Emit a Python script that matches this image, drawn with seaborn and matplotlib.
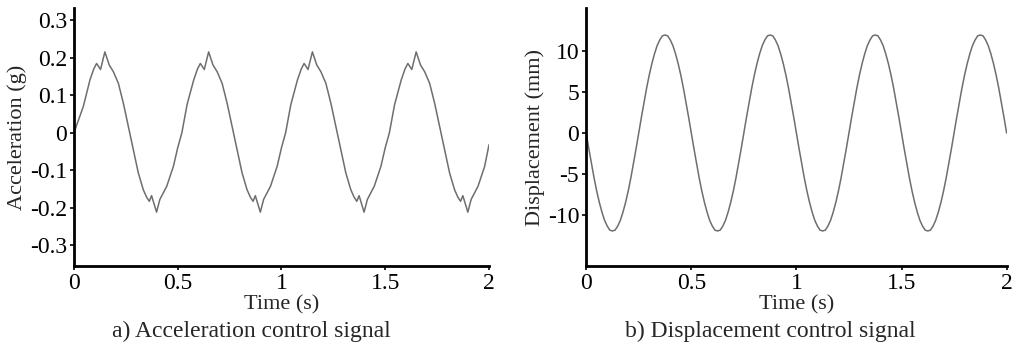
import numpy as np
import pandas as pd
import seaborn as sns
import matplotlib.pyplot as plt

# acceleration control signal (s, g)
acc_time = [
    0.000, 0.045, 0.077, 0.095, 0.109, 0.128, 0.149, 0.170, 0.190, 0.214, 0.238, 0.262,
    0.286, 0.310, 0.334, 0.350, 0.363, 0.374, 0.398, 0.414, 0.447, 0.479,
    0.500, 0.520, 0.545, 0.577, 0.595, 0.609, 0.628, 0.649, 0.670, 0.690, 0.714, 0.738, 0.762,
    0.786, 0.810, 0.834, 0.850, 0.863, 0.874, 0.898, 0.914, 0.947, 0.979,
    1.000, 1.020, 1.045, 1.077, 1.095, 1.109, 1.128, 1.149, 1.170, 1.190, 1.214, 1.238, 1.262,
    1.286, 1.310, 1.334, 1.350, 1.363, 1.374, 1.398, 1.414, 1.447, 1.479,
    1.500, 1.520, 1.545, 1.577, 1.595, 1.609, 1.628, 1.649, 1.670, 1.690, 1.714, 1.738, 1.762,
    1.786, 1.810, 1.834, 1.850, 1.863, 1.874, 1.898, 1.914, 1.947, 1.979, 2.000,
]
acc_value = [
    0.000, 0.070, 0.141, 0.170, 0.185, 0.169, 0.216, 0.181, 0.163, 0.132, 0.079, 0.017,
    -0.045, -0.107, -0.152, -0.172, -0.183, -0.168, -0.212, -0.178, -0.143, -0.090,
    -0.040, 0.000, 0.075, 0.141, 0.170, 0.185, 0.169, 0.216, 0.181, 0.163, 0.132, 0.079, 0.017,
    -0.045, -0.107, -0.152, -0.172, -0.183, -0.168, -0.212, -0.178, -0.143, -0.090,
    -0.040, 0.000, 0.075, 0.141, 0.170, 0.185, 0.169, 0.216, 0.181, 0.163, 0.132, 0.079, 0.017,
    -0.045, -0.107, -0.152, -0.172, -0.183, -0.168, -0.212, -0.178, -0.143, -0.090,
    -0.040, 0.000, 0.075, 0.141, 0.170, 0.185, 0.169, 0.216, 0.181, 0.163, 0.132, 0.079, 0.017,
    -0.045, -0.107, -0.152, -0.172, -0.183, -0.168, -0.212, -0.178, -0.143, -0.090, -0.032,
]

# displacement control signal, sampled every 0.0125 s (mm)
disp_value = [
    0.0, -1.9, -3.7, -5.5, -7.1, -8.5, -9.7, -10.7, -11.4, -11.9,
    -12.0, -11.9, -11.4, -10.7, -9.7, -8.5, -7.1, -5.5, -3.7, -1.9,
    0.0, 1.9, 3.7, 5.5, 7.1, 8.5, 9.7, 10.7, 11.4, 11.9,
    12.0, 11.9, 11.4, 10.7, 9.7, 8.5, 7.1, 5.5, 3.7, 1.9,
    0.0, -1.9, -3.7, -5.5, -7.1, -8.5, -9.7, -10.7, -11.4, -11.9,
    -12.0, -11.9, -11.4, -10.7, -9.7, -8.5, -7.1, -5.5, -3.7, -1.9,
    0.0, 1.9, 3.7, 5.5, 7.1, 8.5, 9.7, 10.7, 11.4, 11.9,
    12.0, 11.9, 11.4, 10.7, 9.7, 8.5, 7.1, 5.5, 3.7, 1.9,
    0.0, -1.9, -3.7, -5.5, -7.1, -8.5, -9.7, -10.7, -11.4, -11.9,
    -12.0, -11.9, -11.4, -10.7, -9.7, -8.5, -7.1, -5.5, -3.7, -1.9,
    0.0, 1.9, 3.7, 5.5, 7.1, 8.5, 9.7, 10.7, 11.4, 11.9,
    12.0, 11.9, 11.4, 10.7, 9.7, 8.5, 7.1, 5.5, 3.7, 1.9,
    0.0, -1.9, -3.7, -5.5, -7.1, -8.5, -9.7, -10.7, -11.4, -11.9,
    -12.0, -11.9, -11.4, -10.7, -9.7, -8.5, -7.1, -5.5, -3.7, -1.9,
    0.0, 1.9, 3.7, 5.5, 7.1, 8.5, 9.7, 10.7, 11.4, 11.9,
    12.0, 11.9, 11.4, 10.7, 9.7, 8.5, 7.1, 5.5, 3.7, 1.9,
    0.0,
]
disp_time = np.linspace(0, 2, len(disp_value))

x_ticks = [0, 0.5, 1, 1.5, 2]
x_labels = ["0", "0.5", "1", "1.5", "2"]
acc_ticks = [0.3, 0.2, 0.1, 0, -0.1, -0.2, -0.3]
acc_labels = ["0.3", "0.2", "0.1", "0", "-0.1", "-0.2", "-0.3"]
disp_ticks = [10, 5, 0, -5, -10]
disp_labels = ["10", "5", "0", "-5", "-10"]

df_acc = pd.DataFrame({"t": acc_time, "a": acc_value})
df_disp = pd.DataFrame({"t": disp_time, "d": disp_value})

sns.set_style("ticks")
plt.rcParams["font.family"] = ["Liberation Serif", "DejaVu Serif"]

fig = plt.figure(figsize=(10.23, 3.51), dpi=100)
ax1 = fig.add_axes([0.0723, 0.242, 0.4057, 0.735])
ax2 = fig.add_axes([0.573, 0.242, 0.411, 0.735])

line_col = "#6e6e6e"
sns.lineplot(data=df_acc, x="t", y="a", ax=ax1, color=line_col, linewidth=1.1)
sns.lineplot(data=df_disp, x="t", y="d", ax=ax2, color=line_col, linewidth=1.1)

ax1.set_ylim(-0.356, 0.333)
ax2.set_ylim(-16.3, 15.3)
ax1.set_yticks(acc_ticks, acc_labels)
ax2.set_yticks(disp_ticks, disp_labels)
ax1.set_ylabel("Acceleration (g)", fontsize=16, labelpad=2)
ax2.set_ylabel("Displacement (mm)", fontsize=16, labelpad=2)

for ax in (ax1, ax2):
    ax.set_xlim(0, 2)
    ax.set_xticks(x_ticks, x_labels)
    ax.tick_params(labelsize=17, length=3, width=1.2, pad=2, colors="black")
    ax.set_xlabel("Time (s)", fontsize=16, labelpad=1)
    for side in ("top", "right"):
        ax.spines[side].set_visible(False)
    for side in ("left", "bottom"):
        ax.spines[side].set_linewidth(2)
        ax.spines[side].set_color("black")

fig.text(0.246, 0.055, "a) Acceleration control signal", ha="center", va="center", fontsize=17)
fig.text(0.753, 0.055, "b) Displacement control signal", ha="center", va="center", fontsize=17)

fig.savefig("out.png", dpi=100)
